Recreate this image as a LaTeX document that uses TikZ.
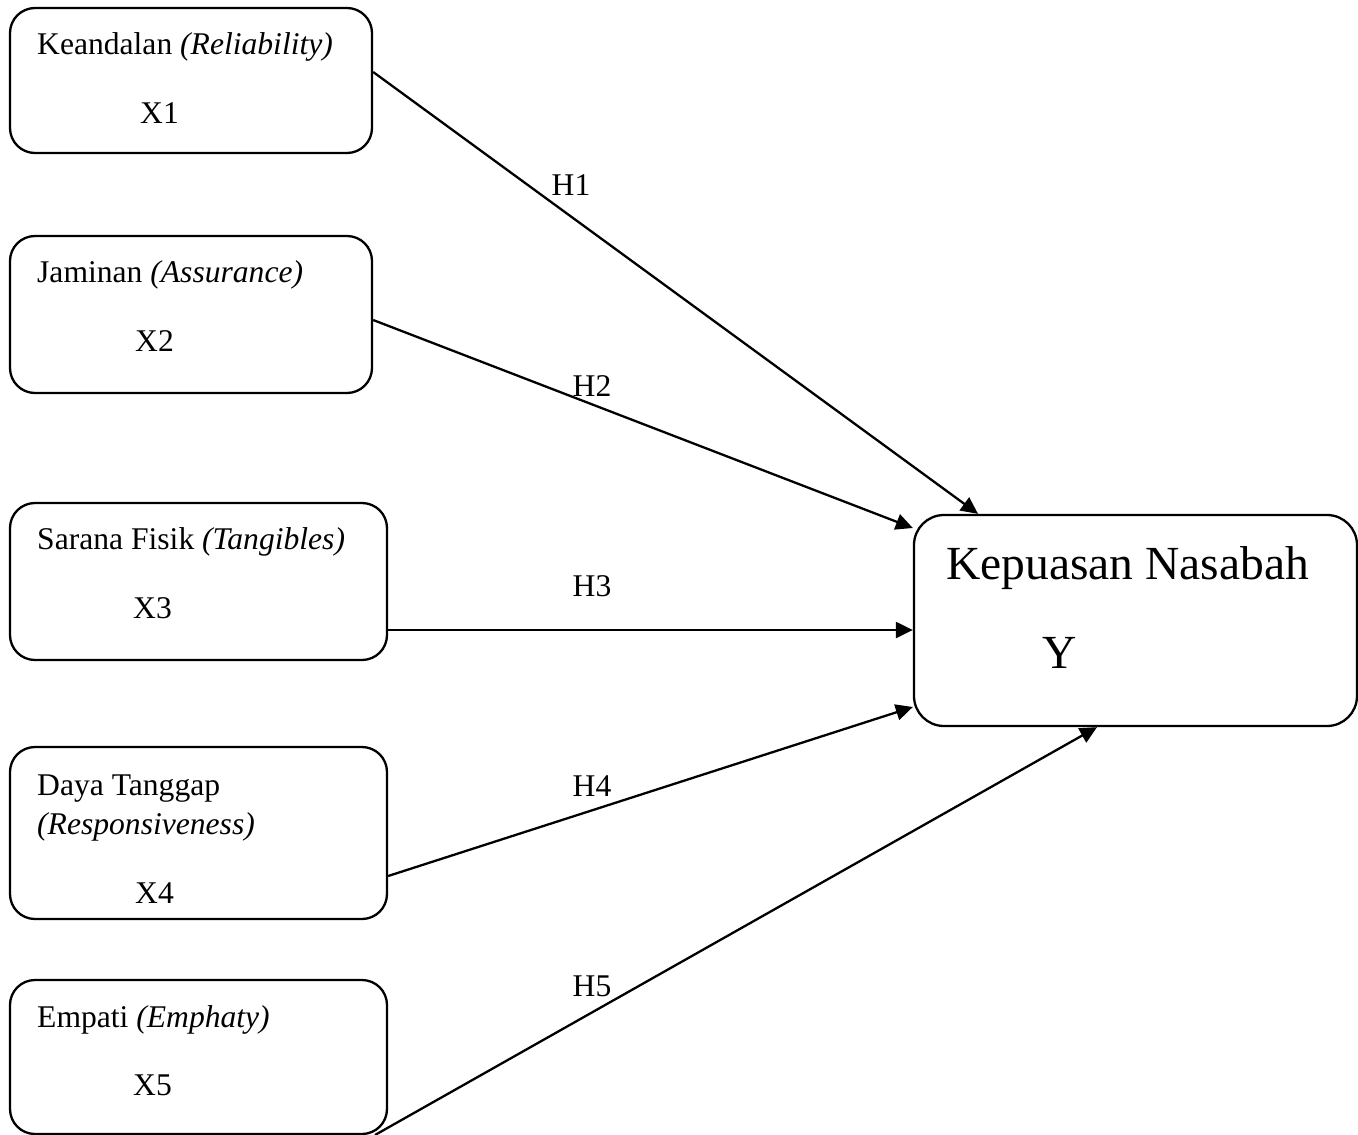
\documentclass[tikz,border=0pt]{standalone}
\usepackage{fontspec}
\setmainfont{Liberation Serif}
\usetikzlibrary{arrows.meta}
\begin{document}
\begin{tikzpicture}[x=1pt,y=-1pt,
  varbox/.style={draw,line width=2.3pt,rounded corners=25pt,inner sep=0pt},
  txt/.style={anchor=base west,inner sep=0pt,font=\fontsize{31.6}{40}\selectfont},
  bigtxt/.style={anchor=base west,inner sep=0pt,font=\fontsize{47.5}{56}\selectfont},
  hlab/.style={inner sep=0pt,font=\fontsize{31.6}{40}\selectfont},
  conn/.style={line width=2.3pt,-{Triangle[length=17pt,width=16pt]}}]
\useasboundingbox (0,0) rectangle (1358,1135);
% boxes
\node[varbox,minimum width=362pt,minimum height=145pt] (x1) at (191,80.5) {};
\node[varbox,minimum width=362pt,minimum height=157pt] (x2) at (191,314.5) {};
\node[varbox,minimum width=377pt,minimum height=157pt] (x3) at (198.5,581.5) {};
\node[varbox,minimum width=377pt,minimum height=172pt] (x4) at (198.5,833) {};
\node[varbox,minimum width=377pt,minimum height=154pt] (x5) at (198.5,1057) {};
\node[varbox,rounded corners=30pt,minimum width=443pt,minimum height=211pt] (y) at (1135.5,620.5) {};
% texts
\node[txt] (t1) at (37,54) {Keandalan \textit{(Reliability)}};
\node[txt] (v1) at (140,123) {X1};
\node[txt] (t2) at (37,282) {Jaminan \textit{(Assurance)}};
\node[txt] (v2) at (135,351) {X2};
\node[txt] (t3) at (37,549) {Sarana Fisik \textit{(Tangibles)}};
\node[txt] (v3) at (133,618) {X3};
\node[txt] (t4a) at (37,795) {Daya Tanggap};
\node[txt] (t4b) at (37,834) {\textit{(Responsiveness)}};
\node[txt] (v4) at (135,903) {X4};
\node[txt] (t5) at (37,1027) {Empati \textit{(Emphaty)}};
\node[txt] (v5) at (133,1095) {X5};
\node[bigtxt] (ty) at (946,579) {Kepuasan Nasabah};
\node[bigtxt] (vy) at (1042,668) {Y};
% connector ends
\coordinate (s5) at (375,1135);
% connectors
\draw[conn] ([yshift=8.5pt]x1.east) -- ([xshift=-157.5pt]y.north);
\draw[conn] ([yshift=-5.5pt]x2.east) -- ([yshift=92.5pt]y.west);
\draw[conn] ([yshift=-48.5pt]x3.east) -- ([yshift=-9.5pt]y.west);
\draw[conn] ([yshift=-43pt]x4.east) -- ([yshift=-86.5pt]y.west);
\draw[conn] (s5) -- ([xshift=-38.5pt]y.south);
% labels
\node[hlab] (h1) at (571,185) {H1};
\node[hlab] (h2) at (592,386) {H2};
\node[hlab] (h3) at (592,586) {H3};
\node[hlab] (h4) at (592,786) {H4};
\node[hlab] (h5) at (592,986) {H5};
\end{tikzpicture}
\end{document}
